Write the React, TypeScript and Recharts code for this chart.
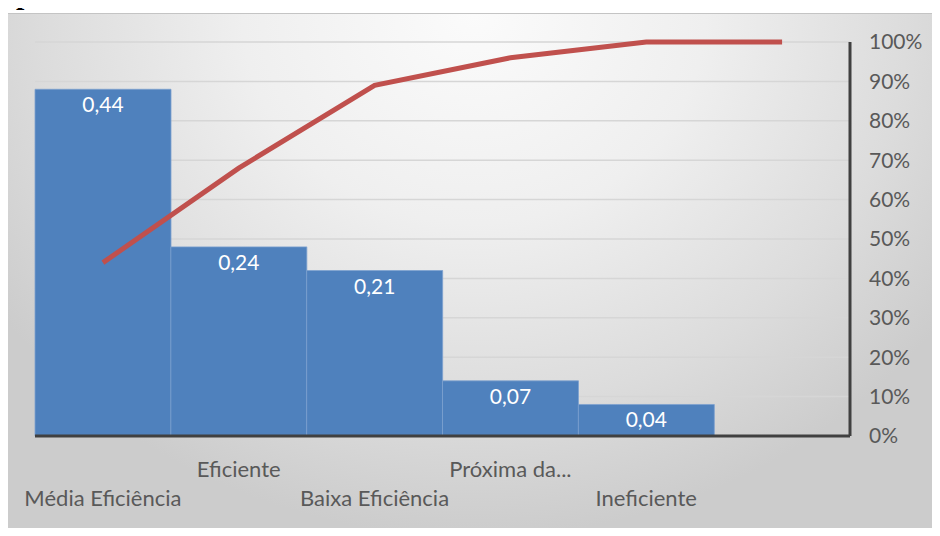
import React from 'react';
import {
  ComposedChart,
  Bar,
  Line,
  XAxis,
  YAxis,
  CartesianGrid,
  LabelList,
} from 'recharts';

// Efficiency classes, their share and the running total
const categories = ['Média Eficiência', 'Eficiente', 'Baixa Eficiência', 'Próxima da...', 'Ineficiente', ''];
const shares = [0.44, 0.24, 0.21, 0.07, 0.04, 0];
const cumulative = [0.44, 0.68, 0.89, 0.96, 1, 1];
const percentTicks = [0, 0.1, 0.2, 0.3, 0.4, 0.5, 0.6, 0.7, 0.8, 0.9, 1];

const data = categories.map((name, i) => ({
  name,
  share: shares[i],
  total: cumulative[i],
}));

const FONT = 'Lato, "Open Sans", sans-serif';

// category names alternate between two rows so they don't collide
const StaggeredTick = (props: any) => {
  const { x, payload, index } = props;
  const y = index % 2 === 0 ? 506 : 477;
  return (
    <text x={x} y={y} textAnchor="middle" fontFamily={FONT} fontSize={22} fill="#595959">
      {payload.value}
    </text>
  );
};

const ShareLabel = (props: any) => {
  const { x, y, width, value } = props;
  const text = String(value).replace('.', ',');
  if (value === 0) {
    return (
      <text x={x + width / 2} y={y - 3} textAnchor="middle" fontFamily={FONT} fontSize={21} fill="#262626">
        {text}
      </text>
    );
  }
  return (
    <text x={x + width / 2} y={y + 23} textAnchor="middle" fontFamily={FONT} fontSize={21} fill="#ffffff">
      {text}
    </text>
  );
};

export default function App() {
  return (
    <div style={{ position: 'relative', width: 940, height: 536, margin: -8, overflow: 'hidden', background: '#ffffff' }}>
      {/* tail of the line of text above the chart */}
      <svg width={60} height={13} style={{ position: 'absolute', left: 0, top: 0, zIndex: 2 }}>
        <text x={16} y={4} fontSize={30} fontWeight={700} fontFamily='"Liberation Serif", "DejaVu Serif", serif' fill="#000">
          p
        </text>
      </svg>
      <div
        style={{
          position: 'absolute',
          left: 8,
          top: 13,
          width: 932,
          height: 523,
          borderTop: '1px solid #c4c4c4',
          background:
            'radial-gradient(ellipse 62% 100% at 50% 0%, #fbfbfb 0%, #efefef 40%, #dcdcdc 75%, #cccccc 100%)',
        }}
      />
      <div style={{ position: 'absolute', left: 0, top: 0 }}>
        <ComposedChart
          width={940}
          height={536}
          data={data}
          barCategoryGap={0}
          barGap={0}
          margin={{ top: 42, right: 30, left: 35, bottom: 20 }}
        >
          <CartesianGrid
            yAxisId="pct"
            vertical={false}
            stroke="#d6d6d6"
            strokeWidth={1.5}
          />
          <XAxis
            dataKey="name"
            interval={0}
            height={80}
            tickLine={false}
            axisLine={{ stroke: '#404040', strokeWidth: 3 }}
            tick={<StaggeredTick />}
          />
          <YAxis yAxisId="share" domain={[0, 0.5]} hide />
          <YAxis
            yAxisId="pct"
            orientation="right"
            domain={[0, 1]}
            ticks={percentTicks}
            width={60}
            tickLine={false}
            axisLine={{ stroke: '#404040', strokeWidth: 3 }}
            tickFormatter={(v: number) => `${Math.round(v * 100)}%`}
            tick={{ fontFamily: FONT, fontSize: 21, fill: '#595959', textAnchor: 'start', dx: 13 }}
            tickMargin={0}
          />
          <Bar
            yAxisId="share"
            dataKey="share"
            fill="#4f81bd"
            stroke="#7ea1cf"
            strokeWidth={0.8}
            isAnimationActive={false}
          >
            <LabelList dataKey="share" content={<ShareLabel />} />
          </Bar>
          <Line
            yAxisId="pct"
            dataKey="total"
            type="linear"
            stroke="#c0504d"
            strokeWidth={5}
            dot={false}
            activeDot={false}
            isAnimationActive={false}
          />
        </ComposedChart>
      </div>
    </div>
  );
}
